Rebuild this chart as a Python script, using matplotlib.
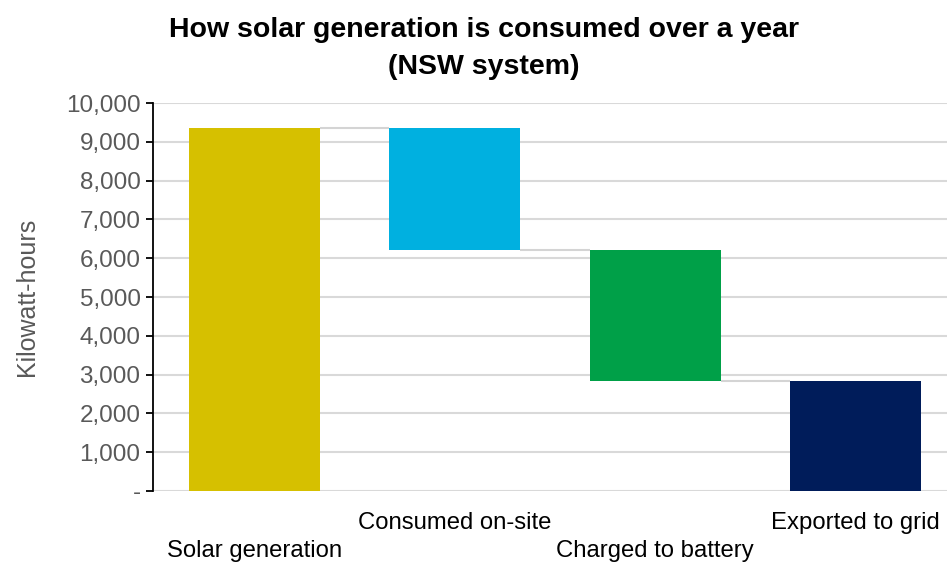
import matplotlib
matplotlib.use("Agg")
import matplotlib.pyplot as plt
import matplotlib.transforms as mtransforms
from matplotlib.ticker import FuncFormatter, MultipleLocator

plt.rcParams['font.family'] = ['Liberation Sans', 'DejaVu Sans']

# Waterfall of a year's solar output (kWh)
categories = ["Solar generation", "Consumed on-site", "Charged to battery", "Exported to grid"]
amounts = [9350, 3130, 3380, 2840]
colors = ["#D6C000", "#00B0E0", "#00A048", "#001C5A"]
title_lines = ["How solar generation is consumed over a year", "(NSW system)"]
y_label = "Kilowatt-hours"

# Bar extents: first bar from zero, each later bar steps down from the previous bottom
bottoms, tops = [], []
level = amounts[0]
bottoms.append(0)
tops.append(amounts[0])
for amt in amounts[1:-1]:
    tops.append(level)
    level -= amt
    bottoms.append(level)
bottoms.append(0)
tops.append(amounts[-1])

fig = plt.figure(figsize=(9.47, 5.63), dpi=100)
ax = fig.add_axes([0.1616, 0.1279, 0.8384, 0.689])

x = list(range(len(categories)))
width = 0.654
heights = [t - b for t, b in zip(tops, bottoms)]
ax.bar(x, heights, bottom=bottoms, width=width, color=colors, zorder=3)

# connector lines between consecutive bars
for i in range(len(x) - 1):
    yv = bottoms[i] if i > 0 else tops[i]
    ax.plot([x[i] + width / 2, x[i + 1] - width / 2], [yv, yv],
            color="#d4d4d4", lw=1.5, zorder=2, solid_capstyle="butt")

ax.set_ylim(0, 10000)
ax.set_xlim(-0.507, 3.457)
ax.yaxis.set_major_locator(MultipleLocator(1000))
ax.yaxis.set_major_formatter(FuncFormatter(lambda v, p: "-" if v == 0 else f"{int(v):,}"))
ax.grid(axis="y", color="#d9d9d9", lw=1.5, zorder=0)
ax.set_axisbelow(True)

for s in ["top", "right", "bottom"]:
    ax.spines[s].set_visible(False)
ax.spines["left"].set_color("black")
ax.spines["left"].set_linewidth(1.3)
ax.tick_params(axis="y", direction="out", length=5, width=1.3, color="black",
               labelsize=17.5, labelcolor="#595959", pad=4)
ax.set_xticks([])

ax.set_ylabel(y_label, fontsize=18, color="#595959")
ax.yaxis.set_label_coords(-0.143, 0.5)

# staggered category labels under the bars
trans = mtransforms.blended_transform_factory(ax.transData, fig.transFigure)
for i, name in enumerate(categories):
    ypix = 523 if i % 2 == 1 else 551
    ax.text(x[i], 1 - ypix / 563, name, transform=trans, ha="center", va="center",
            fontsize=17.2, color="black")

fig.text(484 / 947, 1 - 30 / 563, title_lines[0], ha="center", va="center",
         fontsize=20.5, fontweight="bold", color="black")
fig.text(484 / 947, 1 - 67 / 563, title_lines[1], ha="center", va="center",
         fontsize=20.5, fontweight="bold", color="black")

fig.savefig("out.png", dpi=100, facecolor="white")
